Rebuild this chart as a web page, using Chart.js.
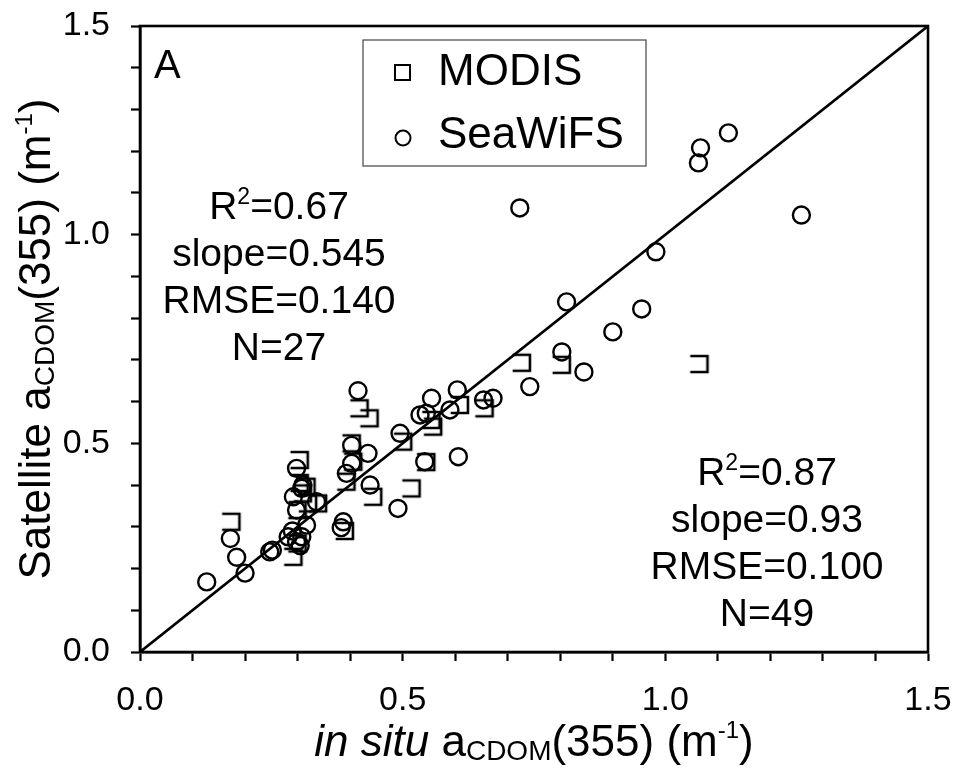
<!DOCTYPE html>
<html>
<head>
<meta charset="utf-8">
<script src="https://cdn.jsdelivr.net/npm/chart.js@4/dist/chart.umd.min.js"></script>
<style>
  html, body { margin: 0; padding: 0; background: #fff; }
  canvas { display: block; }
</style>
</head>
<body>
<canvas id="chart" width="957" height="772"></canvas>
<script>
// MODIS retrievals vs in situ a_CDOM(355)
const modisX = [0.174, 0.292, 0.304, 0.304, 0.317, 0.320, 0.339, 0.300, 0.310, 0.300,
                0.418, 0.437, 0.403, 0.406, 0.393, 0.444, 0.390, 0.501, 0.517, 0.545,
                0.555, 0.558, 0.609, 0.656, 0.727, 0.803, 1.065];
const modisY = [0.312, 0.228, 0.460, 0.405, 0.396, 0.356, 0.356, 0.340, 0.380, 0.260,
                0.584, 0.560, 0.500, 0.456, 0.408, 0.372, 0.290, 0.504, 0.392, 0.455,
                0.556, 0.540, 0.592, 0.584, 0.693, 0.688, 0.690];

// SeaWiFS retrievals vs in situ a_CDOM(355)
const seawifsX = [0.127, 0.200, 0.184, 0.172, 0.247, 0.252, 0.282, 0.298, 0.308, 0.317,
                  0.298, 0.308, 0.292, 0.298, 0.336, 0.387, 0.305, 0.290, 0.310, 0.383,
                  0.415, 0.403, 0.434, 0.403, 0.393, 0.438, 0.491, 0.495, 0.542, 0.555,
                  0.533, 0.545, 0.590, 0.604, 0.606, 0.654, 0.672, 0.742, 0.723, 0.982,
                  0.812, 0.955, 0.900, 0.803, 0.845, 1.067, 1.063, 1.120, 1.259];
const seawifsY = [0.168, 0.189, 0.227, 0.272, 0.240, 0.244, 0.276, 0.264, 0.276, 0.304,
                  0.440, 0.392, 0.372, 0.340, 0.360, 0.312, 0.255, 0.290, 0.400, 0.298,
                  0.626, 0.495, 0.476, 0.452, 0.428, 0.400, 0.344, 0.524, 0.456, 0.608,
                  0.568, 0.572, 0.580, 0.628, 0.468, 0.604, 0.608, 0.636, 1.064, 0.959,
                  0.839, 0.822, 0.767, 0.719, 0.671, 1.208, 1.172, 1.244, 1.047];

// 1:1 reference line
const oneToOneX = [0, 1.5];
const oneToOneY = [0, 1.5];

const seriesNames = ['MODIS', 'SeaWiFS'];
const axisMin = 0;
const axisMax = 1.5;
const minorStep = 0.1;
const labelStep = 0.5;
const panelLabel = 'A';

// regression statistics: [prefix, superscript, rest]
const modisStats = [['R', '2', '=0.67'], ['slope=0.545'], ['RMSE=0.140'], ['N=27']];
const seawifsStats = [['R', '2', '=0.87'], ['slope=0.93'], ['RMSE=0.100'], ['N=49']];

const FONT = '"Liberation Sans", Arial, Helvetica, sans-serif';

function toPoints(xs, ys) { return xs.map((x, i) => ({ x: x, y: ys[i] })); }

// open square marker (top, right and bottom edges)
function makeSquareMarker() {
  const c = document.createElement('canvas');
  c.width = 24; c.height = 24;
  const g = c.getContext('2d');
  g.strokeStyle = '#000';
  g.lineWidth = 2.6;
  g.lineCap = 'square';
  g.beginPath();
  g.moveTo(4, 4); g.lineTo(20, 4); g.lineTo(20, 20); g.lineTo(4, 20);
  g.stroke();
  return c;
}

// text runs with per-piece size, style and vertical shift
function richWidth(ctx, parts) {
  let w = 0;
  for (const p of parts) {
    ctx.font = (p.it ? 'italic ' : '') + p.s + 'px ' + FONT;
    w += ctx.measureText(p.t).width;
  }
  return w;
}
function drawRich(ctx, parts, x, y, align) {
  const w = richWidth(ctx, parts);
  let cx = align === 'center' ? x - w / 2 : (align === 'right' ? x - w : x);
  ctx.textAlign = 'left';
  ctx.textBaseline = 'alphabetic';
  for (const p of parts) {
    ctx.font = (p.it ? 'italic ' : '') + p.s + 'px ' + FONT;
    ctx.fillText(p.t, cx, y + (p.dy || 0));
    cx += ctx.measureText(p.t).width;
  }
}
function statParts(row, size) {
  if (row.length === 1) return [{ t: row[0], s: size }];
  return [{ t: row[0], s: size }, { t: row[1], s: Math.round(size * 0.6), dy: -size * 0.38 }, { t: row[2], s: size }];
}

const decorations = {
  id: 'decorations',
  afterDraw(chart) {
    const ctx = chart.ctx;
    const a = chart.chartArea;
    ctx.save();
    ctx.fillStyle = '#000';
    ctx.strokeStyle = '#000';

    // plot frame
    ctx.lineWidth = 2.6;
    ctx.strokeRect(a.left, a.top, a.right - a.left, a.bottom - a.top);

    // panel letter
    ctx.font = '40px ' + FONT;
    ctx.textAlign = 'left';
    ctx.textBaseline = 'alphabetic';
    ctx.fillText(panelLabel, a.left + 14, a.top + 52);

    // legend box
    const lx = a.left + 223, ly = a.top + 14, lw = 283, lh = 126;
    ctx.lineWidth = 1.2;
    ctx.strokeStyle = '#444';
    ctx.strokeRect(lx, ly, lw, lh);
    ctx.strokeStyle = '#000';
    ctx.lineWidth = 2;
    ctx.strokeRect(lx + 32, ly + 25, 15, 15);
    ctx.beginPath();
    ctx.arc(lx + 40, ly + 98, 7.5, 0, Math.PI * 2);
    ctx.stroke();
    ctx.font = '44px ' + FONT;
    ctx.fillText(seriesNames[0], lx + 75, ly + 45);
    ctx.fillText(seriesNames[1], lx + 75, ly + 108);

    // statistics blocks
    const lineGap = 47;
    modisStats.forEach((row, i) => {
      drawRich(ctx, statParts(row, 39), a.left + 139, a.top + 193 + i * lineGap, 'center');
    });
    seawifsStats.forEach((row, i) => {
      drawRich(ctx, statParts(row, 39), a.left + 627, a.top + 459 + i * lineGap, 'center');
    });

    // x axis title
    const xt = [
      { t: 'in situ', s: 44, it: true },
      { t: ' a', s: 44 },
      { t: 'CDOM', s: 28, dy: 4 },
      { t: '(355) (m', s: 44 },
      { t: '-1', s: 24, dy: -18 },
      { t: ')', s: 44 }
    ];
    drawRich(ctx, xt, (a.left + a.right) / 2, a.bottom + 104, 'center');

    // y axis title
    const yt = [
      { t: 'Satellite a', s: 44 },
      { t: 'CDOM', s: 28, dy: 4 },
      { t: '(355) (m', s: 44 },
      { t: '-1', s: 24, dy: -18 },
      { t: ')', s: 44 }
    ];
    ctx.translate(50, (a.top + a.bottom) / 2);
    ctx.rotate(-Math.PI / 2);
    drawRich(ctx, yt, 0, 0, 'center');
    ctx.restore();
  }
};

function tickLabel(v) {
  const k = v / labelStep;
  return Math.abs(k - Math.round(k)) < 1e-6 ? v.toFixed(1) : '';
}

const axisCommon = {
  type: 'linear',
  min: axisMin,
  max: axisMax,
  grid: {
    drawOnChartArea: false,
    drawTicks: true,
    tickLength: 9,
    tickWidth: 2.2,
    tickColor: '#000'
  },
  border: { display: true, color: '#000', width: 2.6 },
  ticks: {
    stepSize: minorStep,
    autoSkip: false,
    maxRotation: 0,
    color: '#000',
    font: { family: FONT, size: 34 },
    callback: tickLabel
  }
};

new Chart(document.getElementById('chart'), {
  data: {
    datasets: [
      {
        type: 'line',
        label: '1:1',
        data: toPoints(oneToOneX, oneToOneY),
        borderColor: '#000',
        borderWidth: 2.6,
        pointRadius: 0,
        fill: false,
        order: 3
      },
      {
        type: 'scatter',
        label: seriesNames[0],
        data: toPoints(modisX, modisY),
        pointStyle: makeSquareMarker(),
        pointRadius: 9,
        order: 2
      },
      {
        type: 'scatter',
        label: seriesNames[1],
        data: toPoints(seawifsX, seawifsY),
        pointStyle: 'circle',
        pointRadius: 8.5,
        borderWidth: 2.4,
        borderColor: '#000',
        backgroundColor: 'rgba(0,0,0,0)',
        order: 1
      }
    ]
  },
  options: {
    responsive: false,
    animation: false,
    devicePixelRatio: 1,
    layout: { padding: { top: 26, right: 29, left: 0, bottom: 0 } },
    plugins: {
      legend: { display: false },
      tooltip: { enabled: false }
    },
    scales: {
      x: Object.assign({}, axisCommon, {
        position: 'bottom',
        ticks: Object.assign({}, axisCommon.ticks, { padding: 19 }),
        afterFit(scale) {
          scale.height = 120;
          scale.paddingLeft = 0;
          scale.paddingRight = 0;
        }
      }),
      y: Object.assign({}, axisCommon, {
        position: 'left',
        ticks: Object.assign({}, axisCommon.ticks, { padding: 21 }),
        afterFit(scale) {
          scale.width = 140;
          scale.paddingTop = 0;
          scale.paddingBottom = 0;
        }
      })
    }
  },
  plugins: [decorations]
});
</script>
</body>
</html>
